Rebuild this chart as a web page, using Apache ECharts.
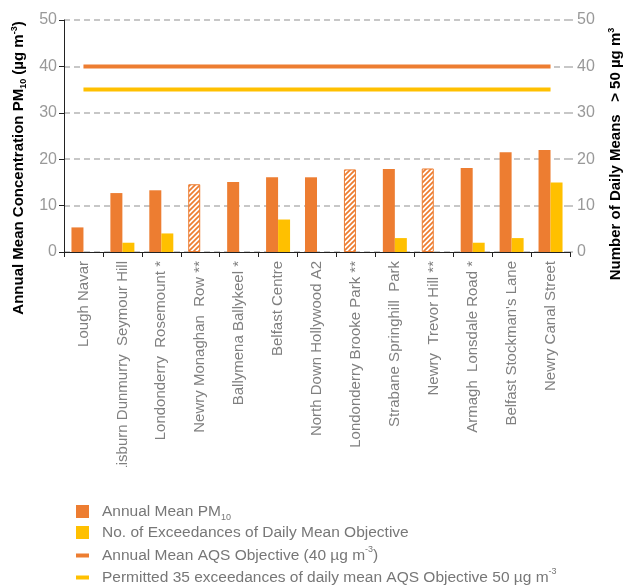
<!DOCTYPE html>
<html>
<head>
<meta charset="utf-8">
<script src="https://cdn.jsdelivr.net/npm/echarts@6/dist/echarts.min.js"></script>
<style>html,body{margin:0;padding:0;background:#fff}#c{width:624px;height:588px}</style>
</head>
<body>
<div id="c"></div>
<script>
const categories = ["Lough Navar", "Lisburn Dunmurry  Seymour Hill", "Londonderry  Rosemount *", "Newry Monaghan  Row **", "Ballymena Ballykeel *", "Belfast Centre", "North Down Hollywood A2", "Londonderry Brooke Park **", "Strabane Springhill  Park", "Newry  Trevor Hill **", "Armagh  Lonsdale Road *", "Belfast Stockman's Lane", "Newry Canal Street"];
const annualMean = [5.3, 12.7, 13.3, 14.6, 15.1, 16.1, 16.1, 17.8, 17.9, 18.0, 18.1, 21.5, 22.0];
const hatched = [false, false, false, true, false, false, false, true, false, true, false, false, false];
const exceedances = [null, 2, 4, null, null, 7, null, null, 3, null, 2, 3, 15];
const annualObjective = [40, 40, 40, 40, 40, 40, 40, 40, 40, 40, 40, 40, 40];
const permittedExceedances = [35, 35, 35, 35, 35, 35, 35, 35, 35, 35, 35, 35, 35];

const ORANGE = '#ED7D31', YELLOW = '#FFC000';
const FONT = 'Liberation Sans, Arial, sans-serif';

function makeHatch() {
  const c = document.createElement('canvas');
  c.width = 5; c.height = 5;
  const g = c.getContext('2d');
  g.fillStyle = '#fff'; g.fillRect(0, 0, 5, 5);
  g.strokeStyle = ORANGE; g.lineWidth = 1.7;
  g.beginPath();
  g.moveTo(-1, 6); g.lineTo(6, -1);
  g.moveTo(-4, 4); g.lineTo(4, -4);
  g.moveTo(1, 9); g.lineTo(9, 1);
  g.stroke();
  return c;
}
const hatchPattern = { image: makeHatch(), repeat: 'repeat' };

const names = {
  pm: 'Annual Mean PM10',
  ex: 'No. of Exceedances of Daily Mean Objective',
  obj: 'Annual Mean AQS Objective (40 µg m-3)',
  perm: 'Permitted 35 exceedances of daily mean AQS Objective 50 µg m-3'
};
const legendRich = {
  sub: { fontSize: 9, verticalAlign: 'bottom', lineHeight: 20, color: '#777', fontFamily: FONT },
  sup: { fontSize: 9, verticalAlign: 'top', lineHeight: 13, color: '#777', fontFamily: FONT }
};
function legendFmt(n) {
  if (n === names.pm) return 'Annual Mean PM{sub|10}';
  if (n === names.obj) return 'Annual Mean AQS Objective (40 µg m{sup|-3})';
  if (n === names.perm) return 'Permitted 35 exceedances of daily mean AQS Objective 50 µg m{sup|-3}';
  return n;
}

const chart = echarts.init(document.getElementById('c'), null, { renderer: 'canvas' });
chart.setOption({
  animation: false,
  textStyle: { fontFamily: FONT },
  grid: { left: 64, right: 54, top: 20, bottom: 336, containLabel: false },
  xAxis: {
    type: 'category',
    data: categories,
    axisLine: { lineStyle: { color: '#222', width: 1 } },
    axisTick: { show: true, length: 5, lineStyle: { color: '#222' } },
    axisLabel: { rotate: 90, color: '#808080', fontSize: 15, margin: 9, fontFamily: FONT, interval: 0 }
  },
  yAxis: [
    {
      type: 'value', min: 0, max: 50, interval: 10,
      axisLine: { show: true, lineStyle: { color: '#222' } },
      axisTick: { show: true, length: 5, lineStyle: { color: '#222' } },
      axisLabel: { color: '#999', fontSize: 16, margin: 7, fontFamily: FONT },
      splitLine: { show: true, lineStyle: { color: '#b5b5b5', width: 1.5, type: [6, 4] } }
    },
    {
      type: 'value', min: 0, max: 50, interval: 10, position: 'right',
      axisLine: { show: false },
      axisTick: { show: true, length: 6, lineStyle: { color: '#b5b5b5', width: 1.5, type: [3, 3] } },
      axisLabel: { color: '#999', fontSize: 16, margin: 7, fontFamily: FONT },
      splitLine: { show: false }
    }
  ],
  legend: [
    {
      orient: 'vertical', left: 76, top: 501, padding: 0, itemGap: 0, height: 60,
      itemWidth: 13, itemHeight: 13,
      data: [{ name: names.pm, icon: 'rect' }, { name: names.ex, icon: 'rect' }],
      formatter: legendFmt,
      textStyle: { color: '#777', fontSize: 15.5, lineHeight: 21, fontFamily: FONT, padding: [0, 0, 0, 8], rich: legendRich }
    },
    {
      orient: 'vertical', left: 76, top: 545, padding: 0, itemGap: 1, height: 60,
      itemWidth: 13, itemHeight: 4,
      data: [{ name: names.obj, icon: 'rect' }, { name: names.perm, icon: 'rect' }],
      formatter: legendFmt,
      textStyle: { color: '#777', fontSize: 15.5, lineHeight: 21, fontFamily: FONT, padding: [0, 0, 0, 8], rich: legendRich }
    }
  ],
  graphic: [
    {
      type: 'rect', z: 100, shape: { x: 60, y: 467, width: 530, height: 24 },
      style: { fill: '#fff' }
    },
    {
      type: 'text', z: 100, x: 19, y: 168, rotation: Math.PI / 2,
      style: {
        text: 'Annual Mean Concentration PM{s|10} (µg m{p|-3})',
        font: 'bold 15px ' + FONT, fill: '#000', align: 'center', verticalAlign: 'middle',
        rich: {
          s: { fontSize: 9, fontWeight: 'bold', verticalAlign: 'bottom', lineHeight: 18, fill: '#000' },
          p: { fontSize: 9, fontWeight: 'bold', verticalAlign: 'top', lineHeight: 18, fill: '#000' }
        }
      }
    },
    {
      type: 'text', z: 100, x: 616, y: 154, rotation: Math.PI / 2,
      style: {
        text: 'Number of Daily Means   > 50 µg m{p|3}',
        font: 'bold 15px ' + FONT, fill: '#000', align: 'center', verticalAlign: 'middle',
        rich: {
          p: { fontSize: 9, fontWeight: 'bold', verticalAlign: 'top', lineHeight: 18, fill: '#000' }
        }
      }
    }
  ],
  series: [
    {
      name: names.pm, type: 'bar', yAxisIndex: 0, barWidth: 12, barGap: '0%',
      itemStyle: { color: ORANGE },
      data: annualMean.map((v, i) => hatched[i]
        ? { value: v, itemStyle: { color: hatchPattern, borderColor: ORANGE, borderWidth: 1 } }
        : v)
    },
    {
      name: names.ex, type: 'bar', yAxisIndex: 1, barWidth: 12, barGap: '0%',
      itemStyle: { color: YELLOW },
      data: exceedances
    },
    {
      name: names.obj, type: 'line', yAxisIndex: 0, symbol: 'none',
      lineStyle: { color: ORANGE, width: 4 }, itemStyle: { color: ORANGE },
      data: annualObjective
    },
    {
      name: names.perm, type: 'line', yAxisIndex: 1, symbol: 'none',
      lineStyle: { color: YELLOW, width: 4 }, itemStyle: { color: YELLOW },
      data: permittedExceedances
    }
  ]
});
</script>
</body>
</html>
